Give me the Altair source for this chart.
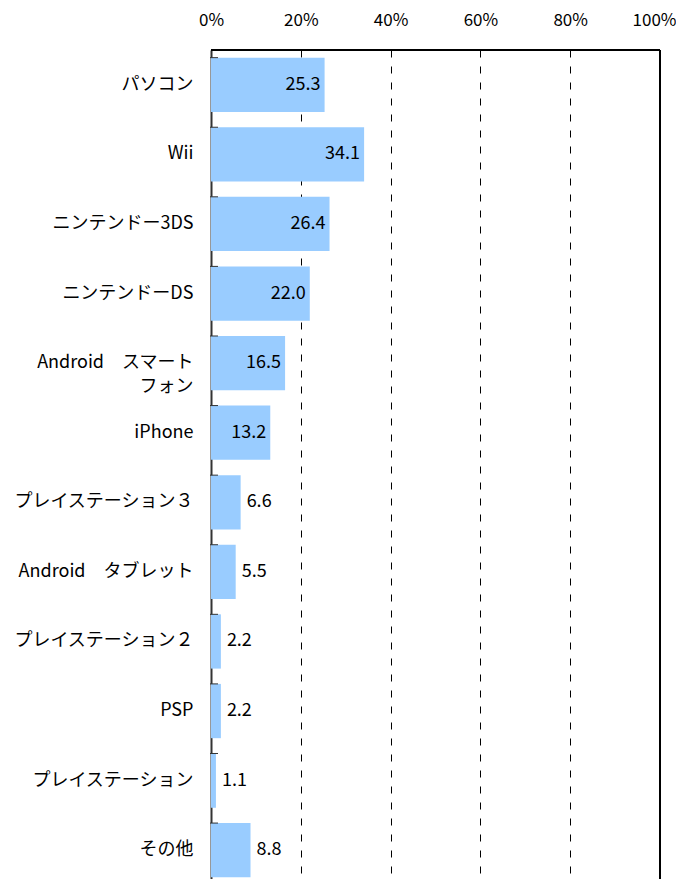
import altair as alt
import pandas as pd

categories = [
    "パソコン", "Wii", "ニンテンドー3DS", "ニンテンドーDS",
    "Android　スマート|フォン", "iPhone", "プレイステーション３",
    "Android　タブレット", "プレイステーション２", "PSP",
    "プレイステーション", "その他",
]
values = [25.3, 34.1, 26.4, 22.0, 16.5, 13.2, 6.6, 5.5, 2.2, 2.2, 1.1, 8.8]
x_ticks = [0, 20, 40, 60, 80, 100]

FONT = "Noto Sans CJK JP"
W, H = 449, 835

df = pd.DataFrame({"cat": categories, "val": values})
df["label"] = df["val"].map(lambda v: f"{v:.1f}")
df["inside"] = df["val"] >= 10

y_enc = alt.Y(
    "cat:N",
    sort=categories,
    scale=alt.Scale(paddingInner=0.22, paddingOuter=0.11),
    axis=alt.Axis(
        title=None,
        ticks=False,
        domain=True,
        domainColor="#333333",
        domainWidth=2,
        labelPadding=18,
        labelFont=FONT,
        labelFontSize=18,
        labelColor="black",
        labelLimit=300,
        labelExpr="split(datum.label, '|')",
        labelLineHeight=24,
    ),
)

x_enc = alt.X(
    "val:Q",
    scale=alt.Scale(domain=[0, 100], nice=False),
    axis=alt.Axis(
        orient="top",
        values=x_ticks,
        title=None,
        ticks=False,
        domain=False,
        labelPadding=21,
        labelFlush=False,
        labelOverlap=False,
        labelOffset={"condition": {"test": "datum.value == 100", "value": -6},
                     "value": 0},
        labelFont=FONT,
        labelFontSize=17,
        labelColor="black",
        labelExpr="datum.value + '%'",
        grid=True,
        gridColor="black",
        gridDash=[7, 9],
        gridWidth=1,
    ),
)

base = alt.Chart(df)

bars = base.mark_bar(color="#99CCFF").encode(x=x_enc, y=y_enc)

frame_top = base.mark_rule(color="black", strokeWidth=1.5).encode(
    x=alt.value(0), x2=alt.value(W), y=alt.value(0)
)
frame_right = base.mark_rule(color="black", strokeWidth=1.5).encode(
    x=alt.value(W), y=alt.value(0), y2=alt.value(H)
)

ticks = base.mark_rule(color="#333333", strokeWidth=1).encode(
    x=alt.value(-1),
    x2=alt.value(7),
    y=alt.Y("cat:N", sort=categories, bandPosition=0),
)

inside_text = base.transform_filter("datum.inside").mark_text(
    align="right", baseline="middle", dx=-4, font=FONT, fontSize=18, color="black"
).encode(x="val:Q", y=alt.Y("cat:N", sort=categories), text="label:N")

outside_text = base.transform_filter("!datum.inside").mark_text(
    align="left", baseline="middle", dx=6, font=FONT, fontSize=18, color="black"
).encode(x="val:Q", y=alt.Y("cat:N", sort=categories), text="label:N")

chart = (
    alt.layer(bars, frame_top, frame_right, ticks, inside_text, outside_text)
    .properties(
        width=W,
        height=H,
        autosize=alt.AutoSizeParams(type="none"),
        padding={"left": 203, "top": 42, "right": 16, "bottom": 0},
    )
    .configure_view(stroke=None)
    .configure(background="white")
)

chart.save("out.html", embed_options={"renderer": "svg", "actions": False})
